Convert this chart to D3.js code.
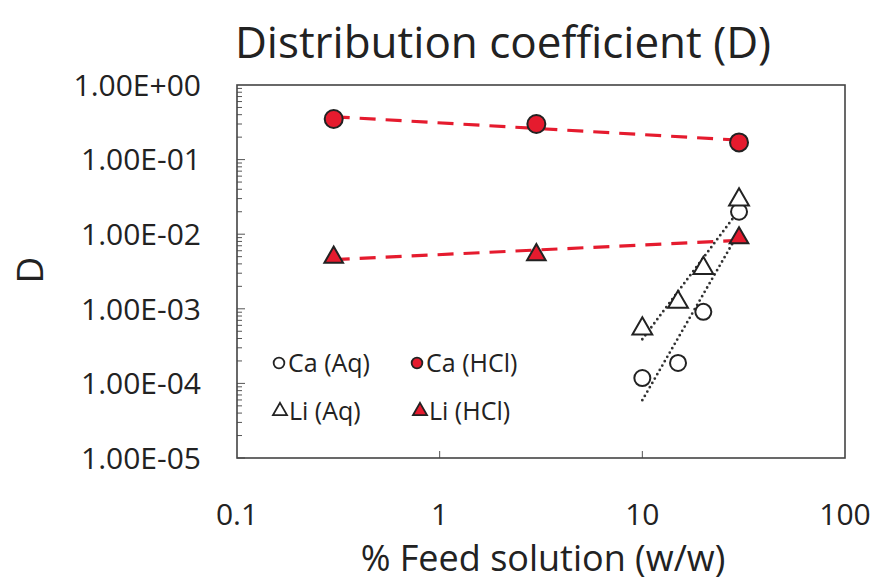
<!DOCTYPE html>
<html>
<head>
<meta charset="utf-8">
<script src="https://cdn.jsdelivr.net/npm/d3@7"></script>
<style>
  body { margin: 0; background: #fff; }
  text { font-family: "Open Sans", "Noto Sans", sans-serif; fill: #222; }
</style>
</head>
<body>
<div id="chart"></div>
<script>
// feed concentrations (% w/w)
var hclFeed = [0.3, 3, 30];
var aqFeed = [10, 15, 20, 30];

// distribution coefficients
var caHCl = [0.35, 0.30, 0.17];
var liHCl = [0.0049, 0.0053, 0.0089];
var caAq = [0.000118, 0.000188, 0.00091, 0.020];
var liAq = [0.00054, 0.00123, 0.0035, 0.029];

var xTicks = [0.1, 1, 10, 100];
var yTicks = [1, 1e-1, 1e-2, 1e-3, 1e-4, 1e-5];
var yTickLabels = ["1.00E+00", "1.00E-01", "1.00E-02", "1.00E-03", "1.00E-04", "1.00E-05"];

var width = 875, height = 580,
    margin = {top: 85, right: 30, bottom: 122, left: 237};
var innerWidth = 845 - margin.left,
    innerHeight = 458 - margin.top;

var svg = d3.select("#chart").append("svg")
    .attr("width", width)
    .attr("height", height);

var g = svg.append("g")
    .attr("transform", "translate(" + margin.left + "," + margin.top + ")");

var x = d3.scaleLog().domain([0.1, 100]).range([0, innerWidth]);
var y = d3.scaleLog().domain([1e-5, 1]).range([innerHeight, 0]);

// minor ticks on y (inside, left)
var yMinor = [];
for (var e = -5; e < 0; e++) {
    for (var m = 1; m < 10; m++) yMinor.push(m * Math.pow(10, e));
}
g.append("g").selectAll("line")
    .data(yMinor)
    .enter().append("line")
    .attr("x1", 0)
    .attr("x2", function(d, i) { return i % 9 === 0 ? 8 : 5; })
    .attr("y1", function(d) { return y(d); })
    .attr("y2", function(d) { return y(d); })
    .attr("stroke", "#555")
    .attr("stroke-width", 1);

// x major ticks (inside, bottom)
g.append("g").selectAll("line")
    .data([1, 10])
    .enter().append("line")
    .attr("x1", function(d) { return x(d); })
    .attr("x2", function(d) { return x(d); })
    .attr("y1", innerHeight)
    .attr("y2", innerHeight - 7)
    .attr("stroke", "#555");

// frame
g.append("rect")
    .attr("width", innerWidth)
    .attr("height", innerHeight)
    .attr("fill", "none")
    .attr("stroke", "#444")
    .attr("stroke-width", 1.6);

// tick labels
svg.append("g").selectAll("text")
    .data(yTicks)
    .enter().append("text")
    .attr("x", 201)
    .attr("y", function(d) { return margin.top + y(d); })
    .attr("dy", "0.36em")
    .attr("text-anchor", "end")
    .style("font-size", "30px")
    .text(function(d, i) { return yTickLabels[i]; });

svg.append("g").selectAll("text")
    .data(xTicks)
    .enter().append("text")
    .attr("x", function(d) { return margin.left + x(d); })
    .attr("y", 514)
    .attr("dy", "0.36em")
    .attr("text-anchor", "middle")
    .style("font-size", "30px")
    .text(function(d) { return d; });

// titles
svg.append("text")
    .attr("x", 503).attr("y", 58)
    .attr("text-anchor", "middle")
    .style("font-size", "44px")
    .text("Distribution coefficient (D)");

svg.append("text")
    .attr("x", 543).attr("y", 571)
    .attr("text-anchor", "middle")
    .style("font-size", "36px")
    .text("% Feed solution (w/w)");

svg.append("text")
    .attr("transform", "translate(43,270) rotate(-90)")
    .attr("text-anchor", "middle")
    .style("font-size", "37px")
    .text("D");

// power-law fit in log-log space
function powerFit(xs, ys) {
    var lx = xs.map(Math.log10), ly = ys.map(Math.log10);
    var mx = d3.mean(lx), my = d3.mean(ly);
    var sxy = d3.sum(lx, function(v, i) { return (v - mx) * (ly[i] - my); });
    var sxx = d3.sum(lx, function(v) { return (v - mx) * (v - mx); });
    var b = sxy / sxx, a = my - b * mx;
    return function(v) { return Math.pow(10, a + b * Math.log10(v)); };
}

var line = d3.line()
    .x(function(d) { return x(d[0]); })
    .y(function(d) { return y(d[1]); });

function trend(xs, ys, dash, color, sw) {
    var f = powerFit(xs, ys);
    var ends = [d3.min(xs), d3.max(xs)];
    g.append("path")
        .datum(ends.map(function(v) { return [v, f(v)]; }))
        .attr("d", line)
        .attr("fill", "none")
        .attr("stroke", color)
        .attr("stroke-width", sw)
        .attr("stroke-dasharray", dash)
        .attr("stroke-linecap", dash === "0,5" ? "round" : "butt");
}

trend(hclFeed, caHCl, "16,10", "#e51b2e", 3.2);
trend(hclFeed, liHCl, "16,10", "#e51b2e", 3.2);
trend(aqFeed, caAq, "0,5", "#333", 2.8);
trend(aqFeed, liAq, "0,5", "#333", 2.8);

var tri = d3.symbol().type(d3.symbolTriangle);

function circles(xs, ys, fill, r) {
    g.append("g").selectAll("circle")
        .data(xs)
        .enter().append("circle")
        .attr("cx", function(d) { return x(d); })
        .attr("cy", function(d, i) { return y(ys[i]); })
        .attr("r", r)
        .attr("fill", fill)
        .attr("stroke", "#222")
        .attr("stroke-width", 2);
}

function triangles(xs, ys, fill, size) {
    g.append("g").selectAll("path")
        .data(xs)
        .enter().append("path")
        .attr("d", tri.size(size))
        .attr("transform", function(d, i) { return "translate(" + x(d) + "," + y(ys[i]) + ")"; })
        .attr("fill", fill)
        .attr("stroke", "#222")
        .attr("stroke-width", 2);
}

circles(hclFeed, caHCl, "#e51b2e", 9);
triangles(hclFeed, liHCl, "#e51b2e", 150);
circles(aqFeed, caAq, "#fff", 8);
triangles(aqFeed, liAq, "#fff", 170);

// legend
var legendItems = [
    {label: "Ca (Aq)", shape: "circle", fill: "#fff", lx: 279, ly: 363},
    {label: "Ca (HCl)", shape: "circle", fill: "#e51b2e", lx: 417, ly: 363},
    {label: "Li (Aq)", shape: "triangle", fill: "#fff", lx: 280, ly: 411},
    {label: "Li (HCl)", shape: "triangle", fill: "#e51b2e", lx: 420, ly: 411}
];

var legend = svg.append("g").selectAll("g")
    .data(legendItems)
    .enter().append("g")
    .attr("transform", function(d) { return "translate(" + d.lx + "," + d.ly + ")"; });

legend.append("path")
    .attr("d", function(d) {
        return d.shape === "circle"
            ? d3.symbol().type(d3.symbolCircle).size(90)()
            : d3.symbol().type(d3.symbolTriangle).size(85)();
    })
    .attr("fill", function(d) { return d.fill; })
    .attr("stroke", "#222")
    .attr("stroke-width", 1.8);

legend.append("text")
    .attr("x", 9)
    .attr("dy", "0.36em")
    .style("font-size", "25px")
    .text(function(d) { return d.label; });
</script>
</body>
</html>
